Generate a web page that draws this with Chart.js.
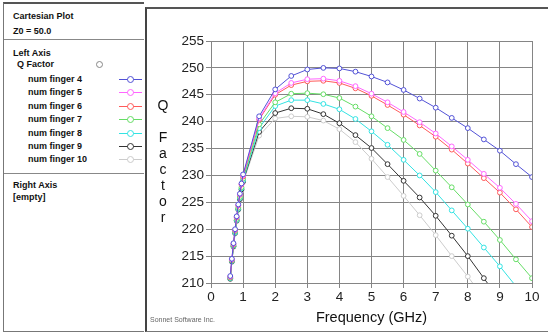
<!DOCTYPE html>
<html>
<head>
<meta charset="utf-8">
<script src="https://cdn.jsdelivr.net/npm/chart.js@4/dist/chart.umd.min.js"></script>
<style>
  body { margin: 0; width: 548px; height: 332px; background: #fff; position: relative; overflow: hidden;
         font-family: "Liberation Sans", Arial, sans-serif; }
  #panel { position: absolute; left: 3px; top: 2px; width: 140px; height: 327px;
           border-top: 2px solid #555; border-left: 1px solid #777; border-bottom: 1px solid #777; }
  #panel .t { position: absolute; font-size: 9px; font-weight: bold; color: #111; white-space: nowrap; line-height: 10px; }
  #panel .sep { position: absolute; left: 0; width: 140px; height: 0; border-top: 1px solid #888; }
  .mk { position: absolute; width: 23px; height: 0; border-top: 1px solid; }
  .mk i { position: absolute; left: 8px; top: -4px; width: 5px; height: 5px; border: 1px solid; border-radius: 50%; background: #fff; }
  #plotbox { position: absolute; left: 145px; top: 7px; width: 401px; height: 322px;
             border-top: 2px solid #555; border-left: 2px solid #444; border-bottom: 1px solid #777; }
  #wrap { position: absolute; left: 147px; top: 9px; width: 400px; height: 320px; }
</style>
</head>
<body>
<div id="panel"></div>
<div id="plotbox"></div>
<div id="wrap"><canvas id="chart" width="400" height="320"></canvas></div>
<script>
// frequency sweep (GHz)
const freq = [0.6, 0.65, 0.7, 0.75, 0.8, 0.85, 0.9, 0.95, 1.0,
  1.5, 2, 2.5, 3, 3.5, 4, 4.5, 5, 5.5, 6, 6.5, 7, 7.5, 8, 8.5, 9, 9.5, 10];

// Q factor for each finger count
const qFinger4 = [211.3, 214.5, 217.4, 220.0, 222.4, 224.6, 226.6, 228.5, 230.2,
  241.0, 246.0, 248.5, 249.7, 250.0, 249.9, 249.3, 248.4, 247.3, 245.9, 244.3, 242.6, 240.7, 238.8, 236.7, 234.6, 232.1, 229.7];
const qFinger5 = [211.2, 214.4, 217.3, 219.9, 222.3, 224.5, 226.5, 228.4, 230.0,
  240.6, 245.3, 247.2, 247.9, 248.0, 247.6, 246.6, 245.2, 243.6, 241.8, 239.9, 237.8, 235.4, 232.9, 230.3, 227.7, 224.7, 221.5];
const qFinger6 = [211.1, 214.3, 217.2, 219.8, 222.2, 224.4, 226.4, 228.3, 229.8,
  240.4, 245.0, 246.8, 247.5, 247.6, 247.2, 246.2, 244.8, 243.1, 241.3, 239.3, 237.2, 234.8, 232.2, 229.5, 226.8, 223.7, 220.4];
const qFinger7 = [211.0, 214.2, 217.0, 219.6, 221.9, 224.0, 226.0, 227.8, 229.4,
  239.5, 243.6, 245.2, 245.3, 245.1, 244.4, 242.8, 241.0, 238.8, 236.6, 234.0, 230.9, 227.8, 224.6, 221.4, 218.0, 214.4, 210.9];
const qFinger8 = [210.9, 214.1, 216.9, 219.4, 221.7, 223.8, 225.8, 227.6, 229.1,
  238.8, 242.9, 244.0, 244.0, 243.3, 242.3, 240.5, 238.2, 235.7, 232.9, 230.0, 226.9, 223.5, 220.1, 216.6, 213.1, 209.4, 205.7];
const qFinger9 = [210.8, 214.0, 216.8, 219.3, 221.6, 223.7, 225.6, 227.4, 228.9,
  238.1, 241.6, 242.5, 242.4, 241.4, 239.7, 237.5, 235.1, 232.1, 229.0, 225.9, 222.5, 218.8, 215.0, 210.9, 206.8, 202.6, 198.3];
const qFinger10 = [210.7, 213.9, 216.7, 219.2, 221.5, 223.6, 225.5, 227.2, 228.7,
  237.4, 240.6, 241.0, 240.9, 240.2, 238.6, 236.2, 233.1, 229.7, 226.2, 222.6, 218.9, 215.0, 211.2, 207.2, 203.1, 198.9, 194.6];

const seriesNames = ["num finger 4", "num finger 5", "num finger 6", "num finger 7", "num finger 8", "num finger 9", "num finger 10"];
const seriesValues = [qFinger4, qFinger5, qFinger6, qFinger7, qFinger8, qFinger9, qFinger10];
const seriesColors = ["#5252d6", "#ff66ff", "#ff5a5a", "#66dd66", "#33e3e3", "#333333", "#cccccc"];

const yTicks = [210, 215, 220, 225, 230, 235, 240, 245, 250, 255];
const xTicks = [0, 1, 2, 3, 4, 5, 6, 7, 8, 9, 10];
const yTitle = ["Q", "", "F", "a", "c", "t", "o", "r"];
const xTitle = "Frequency (GHz)";

// ---- left info panel ----
const panel = document.getElementById("panel");
function addText(txt, x, y) {
  const d = document.createElement("div");
  d.className = "t";
  d.textContent = txt;
  d.style.left = x + "px";
  d.style.top = (y - 5) + "px";
  panel.appendChild(d);
}
function addSep(y) {
  const d = document.createElement("div");
  d.className = "sep";
  d.style.top = y + "px";
  panel.appendChild(d);
}
function addMarker(color, x, y, w) {
  const d = document.createElement("div");
  d.className = "mk";
  d.style.left = x + "px";
  d.style.top = y + "px";
  d.style.borderColor = color;
  if (w === 0) { d.style.borderTopColor = "transparent"; }
  const c = document.createElement("i");
  c.style.borderColor = color;
  d.appendChild(c);
  panel.appendChild(d);
}
addText("Cartesian Plot", 9, 12);
addText("Z0 = 50.0", 9, 27);
addSep(35);
addText("Left Axis", 9, 49);
addText("Q Factor", 13, 60);
addMarker("#888", 84, 60, 0);
seriesNames.forEach((n, i) => {
  const y = 75 + i * 13.4;
  addText(n, 24, y);
  addMarker(seriesColors[i], 115, y, 1);
});
addSep(169);
addText("Right Axis", 9, 181);
addText("[empty]", 9, 193);

// ---- chart ----
const textPlugin = {
  id: "axisText",
  afterDraw(chart) {
    const ctx = chart.ctx;
    const a = chart.chartArea;
    ctx.save();
    ctx.fillStyle = "#111";
    ctx.textAlign = "center";
    ctx.textBaseline = "middle";
    ctx.font = "14px 'Liberation Sans', Arial, sans-serif";
    const cy = (a.top + a.bottom) / 2;
    const lh = 16;
    yTitle.forEach((ch, i) => {
      ctx.fillText(ch, 16, cy - (yTitle.length - 1) * lh / 2 + i * lh);
    });
    ctx.font = "14.5px 'Liberation Sans', Arial, sans-serif";
    ctx.fillText(xTitle, (a.left + a.right) / 2, a.bottom + 35);
    ctx.font = "7px 'Liberation Sans', Arial, sans-serif";
    ctx.fillStyle = "#666";
    ctx.textAlign = "left";
    ctx.fillText("Sonnet Software Inc.", 3, a.bottom + 37);
    ctx.restore();
  }
};

new Chart(document.getElementById("chart"), {
  type: "line",
  data: {
    datasets: seriesNames.map((n, i) => ({
      label: n,
      data: freq.map((f, j) => ({ x: f, y: seriesValues[i][j] })),
      borderColor: seriesColors[i],
      backgroundColor: "#ffffff",
      borderWidth: 1,
      pointRadius: 2.4,
      pointBorderWidth: 1,
      pointBackgroundColor: "#ffffff",
      pointBorderColor: seriesColors[i],
      tension: 0,
      fill: false,
    })),
  },
  options: {
    responsive: false,
    animation: false,
    layout: { padding: { top: 32, right: 15, left: 0, bottom: 0 } },
    plugins: { legend: { display: false }, tooltip: { enabled: false } },
    scales: {
      x: {
        type: "linear",
        min: 0,
        max: 10,
        afterBuildTicks: (s) => { s.ticks = xTicks.map((v) => ({ value: v })); },
        afterFit: (s) => { s.height = 46; },
        grid: { color: "#858585", lineWidth: 1, tickLength: 5 },
        border: { color: "#858585" },
        ticks: { color: "#222", padding: 1, font: { size: 13.5, family: "'Liberation Sans', Arial, sans-serif" }, maxRotation: 0 },
      },
      y: {
        min: 210,
        max: 255,
        afterBuildTicks: (s) => { s.ticks = yTicks.map((v) => ({ value: v })); },
        afterFit: (s) => { s.width = 64; },
        grid: { color: "#858585", lineWidth: 1, tickLength: 5 },
        border: { color: "#858585" },
        ticks: { color: "#222", padding: 2, font: { size: 13.5, family: "'Liberation Sans', Arial, sans-serif" } },
      },
    },
  },
  plugins: [textPlugin],
});
</script>
</body>
</html>
